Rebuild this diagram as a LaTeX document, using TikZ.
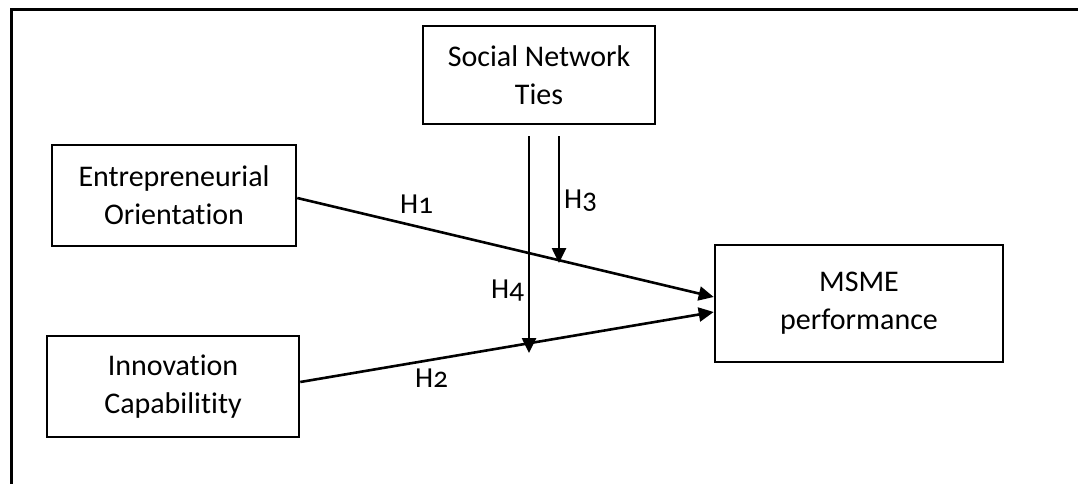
\documentclass[tikz,border=0pt]{standalone}
\usepackage{fontspec}
\setmainfont{Carlito}[Numbers=OldStyle, Ligatures=NoCommon]
\usepackage{tikz}
\usetikzlibrary{arrows.meta}
\usetikzlibrary{calc,positioning}

\tikzset{
  construct/.style={draw, line width=2.6pt, align=center, inner sep=0pt,
    font=\fontsize{30}{38}\selectfont},
  hyp/.style={font=\fontsize{29}{36}\selectfont, inner sep=0pt, anchor=base west},
  link/.style={line width=2.6pt, -{Triangle[length=15pt,width=14pt]}},
}

\begin{document}
\begin{tikzpicture}[x=1pt, y=-1pt]
    \useasboundingbox (0,0) rectangle (1078,484);
    % outer frame
    \draw[line width=3pt] (1078,10) -| (11,484);

    \node (snt)[construct, minimum width=232pt, minimum height=98pt] at (539,75) {Social Network\\Ties};
    \node (eo)[construct, minimum width=244pt, minimum height=101pt] at (174,195.5) {Entrepreneurial\\Orientation};
    \node (ic)[construct, minimum width=252pt, minimum height=101pt] at (173,386.5) {Innovation\\Capabilitity};
    \node (msme)[construct, minimum width=288pt, minimum height=117pt] at (859,303.5) {MSME\\performance};

    \coordinate (h4top) at (529,136);
    \coordinate (h4tip) at (529,353);
    \coordinate (h3top) at (559,136);
    \coordinate (h3tip) at (559,263);

    \draw[link] ([yshift=-2.5pt]eo.east) -- ([yshift=6.5pt]msme.west);
    \draw[link] ([yshift=4.5pt]ic.east) -- ([yshift=-8.5pt]msme.west);
    \draw[link] (h4top) -- (h4tip);
    \draw[link] (h3top) -- (h3tip);

    \node (h1)[hyp] at (400,213) {H1};
    \node (h2)[hyp] at (415,387) {H2};
    \node (h3)[hyp] at (564,208) {H3};
    \node (h4)[hyp] at (491,298) {H4};
  \end{tikzpicture}
\end{document}
